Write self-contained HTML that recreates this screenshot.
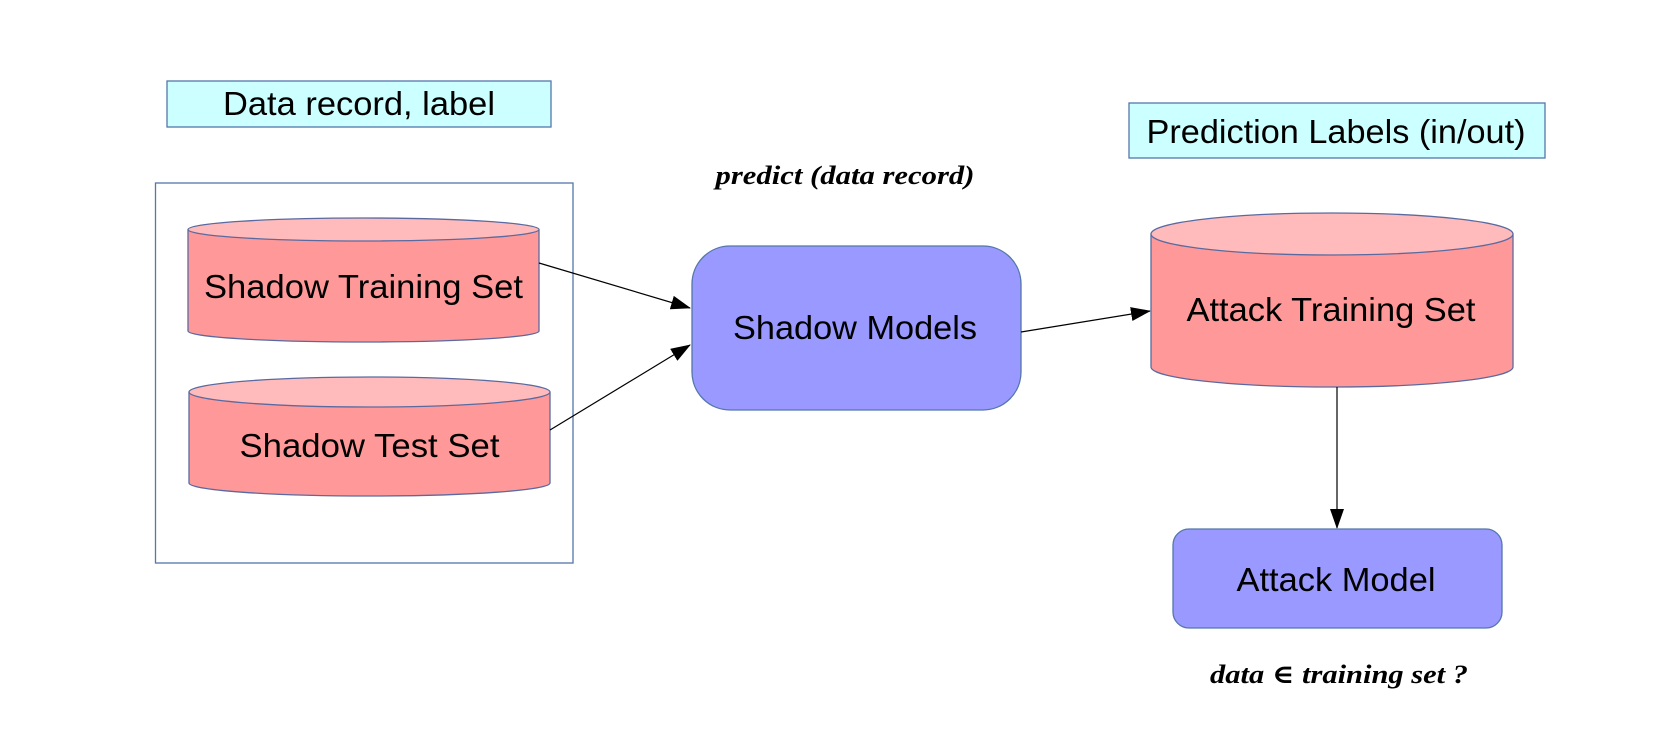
<!DOCTYPE html>
<html><head><meta charset="utf-8"><style>html,body{margin:0;padding:0;background:#fff}</style></head>
<body>
<svg width="1679" height="750" viewBox="0 0 1679 750" xmlns="http://www.w3.org/2000/svg" font-family="Liberation Sans, sans-serif">
<defs>
<marker id="a" markerWidth="20" markerHeight="14" refX="19" refY="7" orient="auto" markerUnits="userSpaceOnUse">
<path d="M0,0 L20,7 L0,14 z" fill="#000"/></marker>
</defs>
<rect x="167" y="81" width="384" height="46" fill="#ccffff" stroke="#5577aa" stroke-width="1.3"/>
<text x="359" y="115" font-size="33" text-anchor="middle" textLength="272" lengthAdjust="spacingAndGlyphs">Data record, label</text>
<rect x="155.5" y="183" width="417.5" height="380" fill="none" stroke="#5577aa" stroke-width="1.3"/>
<!-- Shadow Training -->
<path d="M188,229.5 L188,331 A175.5,11 0 0 0 539,331 L539,229.5" fill="#ff9999" stroke="#5a6aa0" stroke-width="1.3"/>
<ellipse cx="363.5" cy="229.5" rx="175.5" ry="11.5" fill="#ffbbbb" stroke="#5a6aa0" stroke-width="1.3"/>
<text x="363.5" y="298" font-size="33" text-anchor="middle" textLength="319" lengthAdjust="spacingAndGlyphs">Shadow Training Set</text>
<!-- Shadow Test -->
<path d="M189,392 L189,483 A180.5,13 0 0 0 550,483 L550,392" fill="#ff9999" stroke="#5a6aa0" stroke-width="1.3"/>
<ellipse cx="369.5" cy="392" rx="180.5" ry="15" fill="#ffbbbb" stroke="#5a6aa0" stroke-width="1.3"/>
<text x="369.5" y="457" font-size="33" text-anchor="middle" textLength="260" lengthAdjust="spacingAndGlyphs">Shadow Test Set</text>
<!-- predict -->
<text x="845" y="184" font-family="Liberation Serif, serif" font-style="italic" font-weight="bold" font-size="26" text-anchor="middle" textLength="259" lengthAdjust="spacingAndGlyphs">predict (data record)</text>
<!-- Shadow Models -->
<rect x="692" y="246" width="329" height="164" rx="38" fill="#9999ff" stroke="#5577aa" stroke-width="1.3"/>
<text x="855" y="339" font-size="33" text-anchor="middle" textLength="244" lengthAdjust="spacingAndGlyphs">Shadow Models</text>
<!-- arrows -->
<line x1="539" y1="263" x2="690" y2="308" stroke="#000" stroke-width="1.2" marker-end="url(#a)"/>
<line x1="550" y1="430" x2="690" y2="345" stroke="#000" stroke-width="1.2" marker-end="url(#a)"/>
<line x1="1021" y1="332" x2="1150" y2="311" stroke="#000" stroke-width="1.2" marker-end="url(#a)"/>
<!-- Prediction labels -->
<rect x="1129" y="103" width="416" height="55" fill="#ccffff" stroke="#5577aa" stroke-width="1.3"/>
<text x="1336" y="143" font-size="33" text-anchor="middle" textLength="379" lengthAdjust="spacingAndGlyphs">Prediction Labels (in/out)</text>
<!-- Attack Training Set -->
<path d="M1151,234 L1151,367 A181,20 0 0 0 1513,367 L1513,234" fill="#ff9999" stroke="#5a6aa0" stroke-width="1.3"/>
<ellipse cx="1332" cy="234" rx="181" ry="21" fill="#ffbbbb" stroke="#5a6aa0" stroke-width="1.3"/>
<text x="1331" y="321" font-size="33" text-anchor="middle" textLength="289" lengthAdjust="spacingAndGlyphs">Attack Training Set</text>
<line x1="1337" y1="387" x2="1337" y2="528" stroke="#000" stroke-width="1.2" marker-end="url(#a)"/>
<!-- Attack Model -->
<rect x="1173" y="529" width="329" height="99" rx="16" fill="#9999ff" stroke="#5577aa" stroke-width="1.3"/>
<text x="1336" y="591" font-size="33" text-anchor="middle" textLength="199" lengthAdjust="spacingAndGlyphs">Attack Model</text>
<text x="1339" y="683" font-family="Liberation Serif, DejaVu Serif, serif" font-style="italic" font-weight="bold" font-size="26" text-anchor="middle" textLength="258" lengthAdjust="spacingAndGlyphs">data ∈ training set ?</text>
</svg>
</body></html>
